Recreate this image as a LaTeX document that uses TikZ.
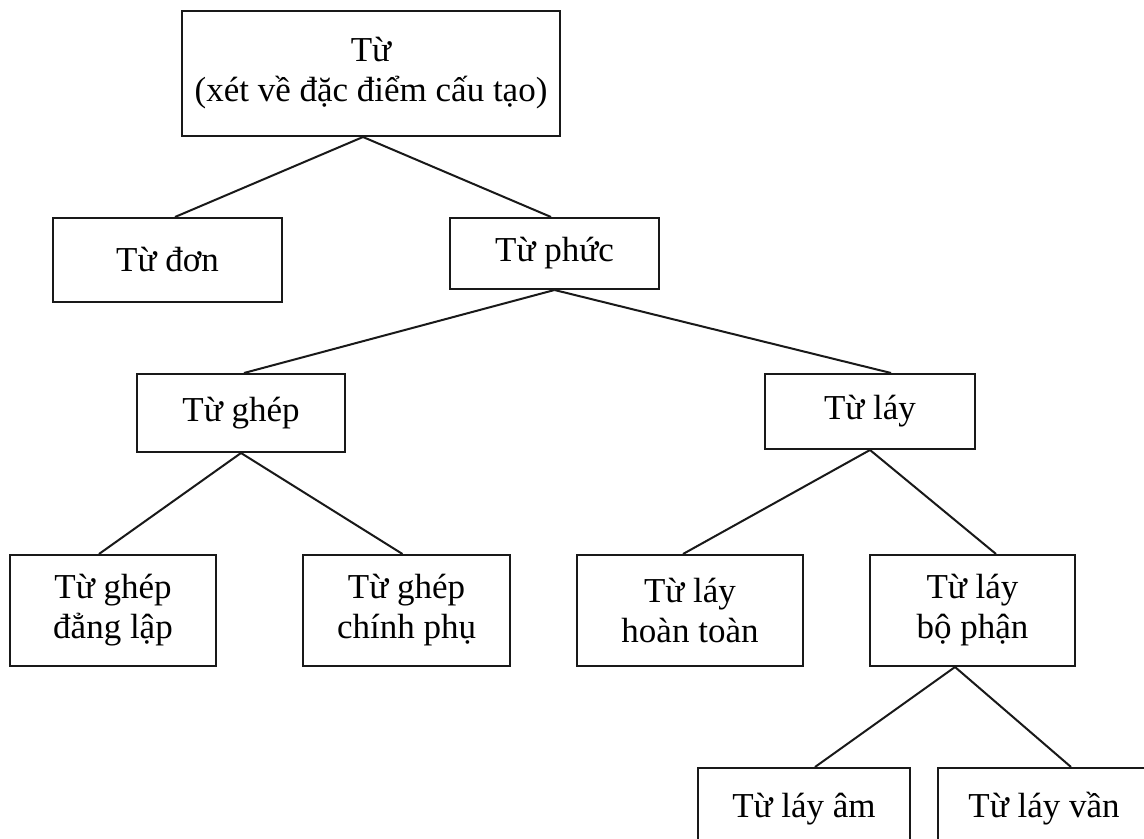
\documentclass[tikz,border=0pt]{standalone}
\usepackage{fontspec}
\setmainfont{Liberation Serif}
\usetikzlibrary{calc}

\begin{document}
\begin{tikzpicture}[x=0.5pt,y=-0.5pt,
    every node/.style={font=\fontsize{17.5}{20}\selectfont,align=center},
    box/.style={draw=black!90,line width=1pt,inner sep=0pt},
    link/.style={draw=black!90,line width=1pt}]
  \clip (0,0) rectangle (1144,839);
  \fill[white] (0,0) rectangle (1144,839);
  % levels 0 and 1
  \node[box,minimum width=189pt,minimum height=62.5pt] (tu) at (371,73.5) {Từ\\(xét về đặc điểm cấu tạo)};
  \node[box,minimum width=114.5pt,minimum height=42pt] (don) at (167.5,260) {Từ đơn};
  \node[box,minimum width=104.5pt,minimum height=35.5pt] (phuc) at (554.5,253.5) {Từ phức};
  % level 2
  \node[box,minimum width=104pt,minimum height=39pt] (ghep) at (241,413) {Từ ghép};
  \node[box,minimum width=105pt,minimum height=37.5pt] (lay) at (870,411.5) {Từ láy};
  % level 3
  \node[box,minimum width=103pt,minimum height=55.5pt] (ghepdl) at (113,610.5) {Từ ghép\\đẳng lập};
  \node[box,minimum width=103.5pt,minimum height=55.5pt] (ghepcp) at (406.5,610.5) {Từ ghép\\chính phụ};
  \node[box,minimum width=113pt,minimum height=55.5pt] (layht) at (690,610.5) {Từ láy\\hoàn toàn};
  \node[box,minimum width=102.5pt,minimum height=55.5pt] (laybp) at (972.5,610.5) {Từ láy\\bộ phận};
  % level 4
  \node[box,minimum width=106pt,minimum height=41pt] (layam) at (804,809) {Từ láy âm};
  \node[box,minimum width=106pt,minimum height=41pt] (layvan) at (1044,809) {Từ láy vần};

  \draw[link] ($(tu.south)+(-8,0)$) -- ($(don.north)+(7.5,0)$);
  \draw[link] ($(tu.south)+(-8,0)$) -- ($(phuc.north)+(-3.5,0)$);
  \draw[link] (phuc.south) -- ($(ghep.north)+(3,0)$);
  \draw[link] (phuc.south) -- ($(lay.north)+(21,0)$);
  \draw[link] (ghep.south) -- ($(ghepdl.north)+(-14,0)$);
  \draw[link] (ghep.south) -- ($(ghepcp.north)+(-4,0)$);
  \draw[link] (lay.south) -- ($(layht.north)+(-7,0)$);
  \draw[link] (lay.south) -- ($(laybp.north)+(23.5,0)$);
  \draw[link] ($(laybp.south)+(-17.5,0)$) -- ($(layam.north)+(11,0)$);
  \draw[link] ($(laybp.south)+(-17.5,0)$) -- ($(layvan.north)+(27,0)$);
\end{tikzpicture}
\end{document}
